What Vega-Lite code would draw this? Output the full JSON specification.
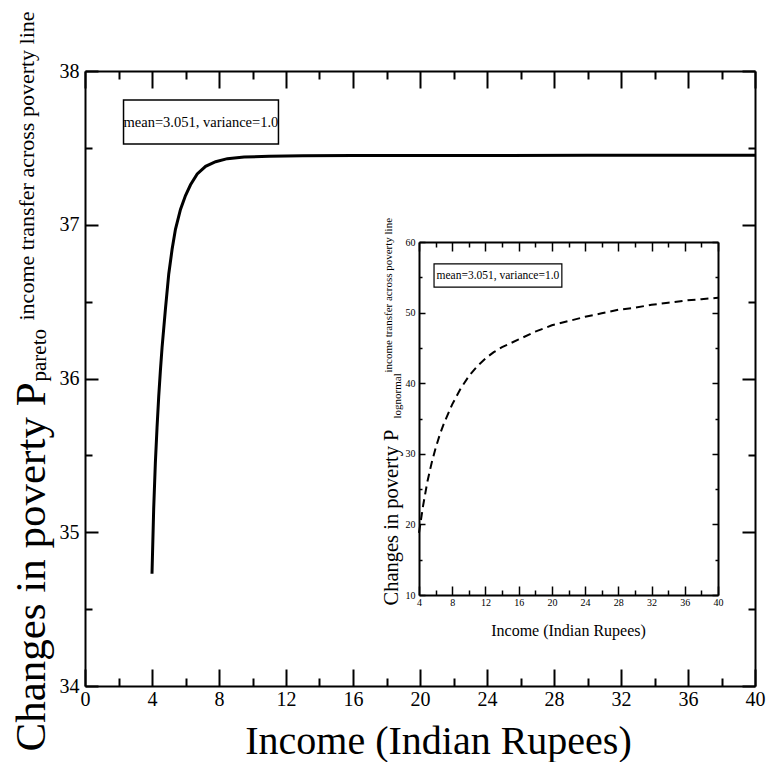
{
  "$schema": "https://vega.github.io/schema/vega-lite/v6.json",
  "width": 670,
  "height": 615,
  "autosize": {"type": "none"},
  "padding": {"left": 85, "top": 71, "right": 13, "bottom": 76},
  "background": "white",
  "config": {
    "view": {"stroke": null},
    "axis": {
      "grid": false, "domainColor": "black", "domainWidth": 2, "tickColor": "black", "tickWidth": 2,
      "labelColor": "black", "titleColor": "black", "labelFont": "Liberation Serif", "titleFont": "Liberation Serif",
      "titleFontWeight": "normal", "labelFlush": false, "labelOverlap": false, "labelBound": false, "titleLimit": 2000
    },
    "text": {"font": "Liberation Serif", "color": "black"}
  },
  "datasets": {
    "pareto": [
      {"income": 4, "p": 34.73}, {"income": 4.1, "p": 35.15}, {"income": 4.2, "p": 35.45},
      {"income": 4.3, "p": 35.68}, {"income": 4.4, "p": 35.88}, {"income": 4.5, "p": 36.05},
      {"income": 4.6, "p": 36.2}, {"income": 4.8, "p": 36.45}, {"income": 5.0, "p": 36.68},
      {"income": 5.2, "p": 36.84}, {"income": 5.4, "p": 36.97}, {"income": 5.7, "p": 37.1},
      {"income": 6.0, "p": 37.19}, {"income": 6.3, "p": 37.26}, {"income": 6.7, "p": 37.33},
      {"income": 7.2, "p": 37.38}, {"income": 7.8, "p": 37.41}, {"income": 8.5, "p": 37.43},
      {"income": 9.5, "p": 37.44}, {"income": 11, "p": 37.445}, {"income": 13, "p": 37.448},
      {"income": 16, "p": 37.45}, {"income": 20, "p": 37.45}, {"income": 25, "p": 37.45},
      {"income": 30, "p": 37.452}, {"income": 35, "p": 37.452}, {"income": 40, "p": 37.452}
    ],
    "lognormal": [
      {"income": 4, "p": 18.8}, {"income": 4.5, "p": 22.7}, {"income": 5, "p": 26.0},
      {"income": 5.5, "p": 28.6}, {"income": 6, "p": 30.8}, {"income": 6.5, "p": 32.7},
      {"income": 7, "p": 34.3}, {"income": 8, "p": 37.0}, {"income": 9, "p": 39.2},
      {"income": 10, "p": 41.0}, {"income": 11, "p": 42.4}, {"income": 12, "p": 43.5},
      {"income": 13, "p": 44.4}, {"income": 14, "p": 45.1}, {"income": 16, "p": 46.2},
      {"income": 18, "p": 47.3}, {"income": 20, "p": 48.2}, {"income": 22, "p": 48.8},
      {"income": 24, "p": 49.4}, {"income": 26, "p": 49.9}, {"income": 28, "p": 50.4},
      {"income": 30, "p": 50.7}, {"income": 32, "p": 51.1}, {"income": 34, "p": 51.4},
      {"income": 36, "p": 51.7}, {"income": 38, "p": 51.9}, {"income": 40, "p": 52.1}
    ]
  },
  "layer": [
    {
      "data": {"name": "pareto"},
      "mark": {"type": "line", "color": "black", "strokeWidth": 3},
      "encoding": {
        "x": {
          "field": "income", "type": "quantitative",
          "scale": {"domain": [0, 40], "nice": false, "zero": false},
          "axis": {
            "orient": "bottom", "ticks": false, "labelFont": "Liberation Serif", "labelColor": "black",
            "values": [0, 4, 8, 12, 16, 20, 24, 28, 32, 36, 40], "labelPadding": 3, "labelFontSize": 20,
            "title": "Income (Indian Rupees)", "titleFont": "Liberation Serif", "titleFontSize": 40,
            "titleX": 353, "titleY": 67, "titleAlign": "center", "titleBaseline": "alphabetic"
          }
        },
        "y": {
          "field": "p", "type": "quantitative",
          "scale": {"domain": [34, 38], "nice": false, "zero": false},
          "axis": {
            "orient": "left", "ticks": false, "labelFont": "Liberation Serif", "labelColor": "black",
            "values": [34, 35, 36, 37, 38], "format": "d", "labelPadding": 6, "labelFontSize": 20,
            "title": "Changes in poverty P", "titleFont": "Liberation Serif", "titleFontSize": 43,
            "titleAngle": 270, "titleX": -41, "titleY": 680, "titleAlign": "left", "titleBaseline": "alphabetic"
          }
        }
      }
    },
    {
      "data": {"name": "pareto"},
      "mark": {"type": "line", "strokeOpacity": 0},
      "encoding": {
        "x": {
          "field": "income", "type": "quantitative",
          "scale": {"domain": [0, 40], "nice": false, "zero": false},
          "axis": {"orient": "top", "offset": -615, "domain": false, "labels": false, "title": null,
            "values": [0, 4, 8, 12, 16, 20, 24, 28, 32, 36, 40], "tickSize": 17, "tickWidth": 2}
        },
        "y": {
          "field": "p", "type": "quantitative",
          "scale": {"domain": [34, 38], "nice": false, "zero": false},
          "axis": {"orient": "right", "offset": -670, "domain": false, "labels": false, "title": null,
            "values": [34, 35, 36, 37, 38], "tickSize": 13, "tickWidth": 2}
        }
      }
    },
    {
      "data": {"name": "pareto"},
      "mark": {"type": "line", "strokeOpacity": 0},
      "encoding": {
        "x": {
          "field": "income", "type": "quantitative",
          "scale": {"domain": [0, 40], "nice": false, "zero": false},
          "axis": {"orient": "top", "offset": -615, "domain": false, "labels": false,
            "values": [2, 6, 10, 14, 18, 22, 26, 30, 34, 38], "tickSize": 8, "tickWidth": 2,
            "title": "income transfer across poverty line", "titleFont": "Liberation Serif", "titleFontSize": 22,
            "titleAngle": 270, "titleX": -52, "titleY": -366, "titleAlign": "left", "titleBaseline": "alphabetic"}
        },
        "y": {
          "field": "p", "type": "quantitative",
          "scale": {"domain": [34, 38], "nice": false, "zero": false},
          "axis": {"orient": "right", "offset": -670, "domain": false, "labels": false,
            "values": [34.5, 35.5, 36.5, 37.5], "tickSize": 7, "tickWidth": 2,
            "title": "pareto", "titleFont": "Liberation Serif", "titleFontSize": 21,
            "titleAngle": 270, "titleX": -40, "titleY": 310, "titleAlign": "left", "titleBaseline": "alphabetic"}
        }
      }
    },
    {
      "data": {"name": "pareto"},
      "mark": {"type": "line", "strokeOpacity": 0},
      "encoding": {
        "x": {
          "field": "income", "type": "quantitative",
          "scale": {"domain": [0, 40], "nice": false, "zero": false},
          "axis": {"orient": "bottom", "offset": -615, "labels": false, "title": null,
            "values": [0, 4, 8, 12, 16, 20, 24, 28, 32, 36, 40], "tickSize": 17, "tickWidth": 2}
        },
        "y": {
          "field": "p", "type": "quantitative",
          "scale": {"domain": [34, 38], "nice": false, "zero": false},
          "axis": {"orient": "left", "offset": -670, "labels": false, "title": null,
            "values": [34, 35, 36, 37, 38], "tickSize": 13, "tickWidth": 2}
        }
      }
    },
    {
      "data": {"name": "pareto"},
      "mark": {"type": "line", "strokeOpacity": 0},
      "encoding": {
        "x": {
          "field": "income", "type": "quantitative",
          "scale": {"domain": [0, 40], "nice": false, "zero": false},
          "axis": {"orient": "bottom", "offset": -615, "domain": false, "labels": false, "title": null,
            "values": [2, 6, 10, 14, 18, 22, 26, 30, 34, 38], "tickSize": 8, "tickWidth": 2}
        },
        "y": {
          "field": "p", "type": "quantitative",
          "scale": {"domain": [34, 38], "nice": false, "zero": false},
          "axis": {"orient": "left", "offset": -670, "domain": false, "labels": false, "title": null,
            "values": [34.5, 35.5, 36.5, 37.5], "tickSize": 7, "tickWidth": 2}
        }
      }
    },
    {
      "data": {"values": [{}]},
      "mark": {"type": "rect", "fill": "white", "stroke": "black", "strokeWidth": 1.5},
      "encoding": {
        "x": {"datum": 2.3, "type": "quantitative", "scale": {"domain": [0, 40], "nice": false, "zero": false}, "axis": null},
        "x2": {"datum": 11.55},
        "y": {"datum": 37.811, "type": "quantitative", "scale": {"domain": [34, 38], "nice": false, "zero": false}, "axis": null},
        "y2": {"datum": 37.525}
      }
    },
    {
      "data": {"values": [{}]},
      "mark": {"type": "text", "text": "mean=3.051, variance=1.0", "font": "Liberation Serif", "fontSize": 14.5, "align": "center", "baseline": "middle", "color": "black"},
      "encoding": {
        "x": {"datum": 6.92, "type": "quantitative", "scale": {"domain": [0, 40], "nice": false, "zero": false}, "axis": null},
        "y": {"datum": 37.665, "type": "quantitative", "scale": {"domain": [34, 38], "nice": false, "zero": false}, "axis": null}
      }
    },
    {
      "data": {"name": "lognormal"},
      "mark": {"type": "line", "color": "black", "strokeWidth": 2, "strokeDash": [8, 5]},
      "encoding": {
        "x": {
          "field": "income", "type": "quantitative",
          "scale": {"domain": [4, 40], "range": [334, 633], "nice": false, "zero": false},
          "axis": {
            "orient": "bottom", "offset": -91, "ticks": false, "labelFont": "Liberation Serif", "labelColor": "black",
            "values": [4, 8, 12, 16, 20, 24, 28, 32, 36, 40], "labelPadding": 2, "labelFontSize": 10,
            "title": "Income (Indian Rupees)", "titleFont": "Liberation Serif", "titleFontSize": 16,
            "titleX": 483, "titleY": 40, "titleAlign": "center", "titleBaseline": "alphabetic"
          }
        },
        "y": {
          "field": "p", "type": "quantitative",
          "scale": {"domain": [10, 60], "range": [524, 171], "nice": false, "zero": false},
          "axis": {
            "orient": "left", "offset": -334, "ticks": false, "labelFont": "Liberation Serif", "labelColor": "black",
            "values": [10, 20, 30, 40, 50, 60], "labelPadding": 4, "labelFontSize": 10,
            "title": "Changes in poverty P", "titleFont": "Liberation Serif", "titleFontSize": 20.5,
            "titleAngle": 270, "titleX": -22, "titleY": 534, "titleAlign": "left", "titleBaseline": "alphabetic"
          }
        }
      }
    },
    {
      "data": {"name": "lognormal"},
      "mark": {"type": "line", "strokeOpacity": 0},
      "encoding": {
        "x": {
          "field": "income", "type": "quantitative",
          "scale": {"domain": [4, 40], "range": [334, 633], "nice": false, "zero": false},
          "axis": {"orient": "top", "offset": -524, "domain": false, "labels": false, "title": null,
            "values": [4, 8, 12, 16, 20, 24, 28, 32, 36, 40], "tickSize": 9, "tickWidth": 1.5}
        },
        "y": {
          "field": "p", "type": "quantitative",
          "scale": {"domain": [10, 60], "range": [524, 171], "nice": false, "zero": false},
          "axis": {"orient": "right", "offset": -336, "domain": false, "labels": false, "title": null,
            "values": [10, 20, 30, 40, 50, 60], "tickSize": 6, "tickWidth": 1.5}
        }
      }
    },
    {
      "data": {"name": "lognormal"},
      "mark": {"type": "line", "strokeOpacity": 0},
      "encoding": {
        "x": {
          "field": "income", "type": "quantitative",
          "scale": {"domain": [4, 40], "range": [334, 633], "nice": false, "zero": false},
          "axis": {"orient": "top", "offset": -524, "domain": false, "labels": false,
            "values": [6, 10, 14, 18, 22, 26, 30, 34, 38], "tickSize": 5, "tickWidth": 1.5,
            "title": "income transfer across poverty line", "titleFont": "Liberation Serif", "titleFontSize": 11,
            "titleAngle": 270, "titleX": 306, "titleY": -223, "titleAlign": "left", "titleBaseline": "alphabetic"}
        },
        "y": {
          "field": "p", "type": "quantitative",
          "scale": {"domain": [10, 60], "range": [524, 171], "nice": false, "zero": false},
          "axis": {"orient": "right", "offset": -336, "domain": false, "labels": false,
            "values": [15, 25, 35, 45, 55], "tickSize": 3, "tickWidth": 1.5,
            "title": "lognormal", "titleFont": "Liberation Serif", "titleFontSize": 11,
            "titleAngle": 270, "titleX": -19, "titleY": 347, "titleAlign": "left", "titleBaseline": "alphabetic"}
        }
      }
    },
    {
      "data": {"name": "lognormal"},
      "mark": {"type": "line", "strokeOpacity": 0},
      "encoding": {
        "x": {
          "field": "income", "type": "quantitative",
          "scale": {"domain": [4, 40], "range": [334, 633], "nice": false, "zero": false},
          "axis": {"orient": "bottom", "offset": -444, "labels": false, "title": null,
            "values": [4, 8, 12, 16, 20, 24, 28, 32, 36, 40], "tickSize": 9, "tickWidth": 1.5}
        },
        "y": {
          "field": "p", "type": "quantitative",
          "scale": {"domain": [10, 60], "range": [524, 171], "nice": false, "zero": false},
          "axis": {"orient": "left", "offset": -633, "labels": false, "title": null,
            "values": [10, 20, 30, 40, 50, 60], "tickSize": 6, "tickWidth": 1.5}
        }
      }
    },
    {
      "data": {"name": "lognormal"},
      "mark": {"type": "line", "strokeOpacity": 0},
      "encoding": {
        "x": {
          "field": "income", "type": "quantitative",
          "scale": {"domain": [4, 40], "range": [334, 633], "nice": false, "zero": false},
          "axis": {"orient": "bottom", "offset": -444, "domain": false, "labels": false, "title": null,
            "values": [6, 10, 14, 18, 22, 26, 30, 34, 38], "tickSize": 5, "tickWidth": 1.5}
        },
        "y": {
          "field": "p", "type": "quantitative",
          "scale": {"domain": [10, 60], "range": [524, 171], "nice": false, "zero": false},
          "axis": {"orient": "left", "offset": -633, "domain": false, "labels": false, "title": null,
            "values": [15, 25, 35, 45, 55], "tickSize": 3, "tickWidth": 1.5}
        }
      }
    },
    {
      "data": {"values": [{}]},
      "mark": {"type": "rect", "fill": "white", "stroke": "black", "strokeWidth": 1.2},
      "encoding": {
        "x": {"datum": 5.81, "type": "quantitative", "scale": {"domain": [4, 40], "range": [334, 633], "nice": false, "zero": false}, "axis": null},
        "x2": {"datum": 21.2},
        "y": {"datum": 56.9, "type": "quantitative", "scale": {"domain": [10, 60], "range": [524, 171], "nice": false, "zero": false}, "axis": null},
        "y2": {"datum": 53.6}
      }
    },
    {
      "data": {"values": [{}]},
      "mark": {"type": "text", "text": "mean=3.051, variance=1.0", "font": "Liberation Serif", "fontSize": 11.5, "align": "center", "baseline": "middle", "color": "black"},
      "encoding": {
        "x": {"datum": 13.5, "type": "quantitative", "scale": {"domain": [4, 40], "range": [334, 633], "nice": false, "zero": false}, "axis": null},
        "y": {"datum": 55.25, "type": "quantitative", "scale": {"domain": [10, 60], "range": [524, 171], "nice": false, "zero": false}, "axis": null}
      }
    }
  ],
  "resolve": {
    "scale": {"x": "independent", "y": "independent"},
    "axis": {"x": "independent", "y": "independent"}
  }
}
